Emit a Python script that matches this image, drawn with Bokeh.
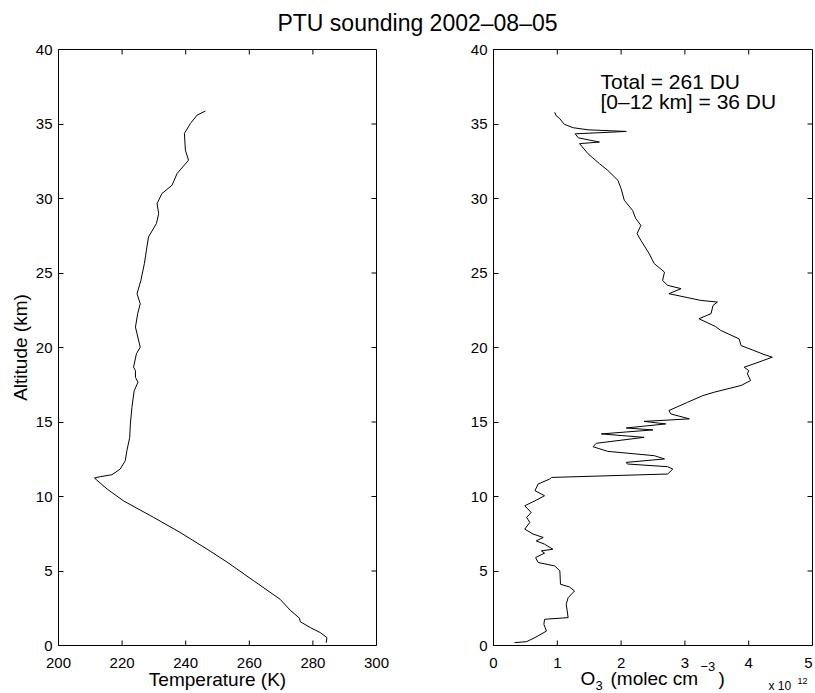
from bokeh.plotting import figure
from bokeh.layouts import column, row
from bokeh.models import Label, FixedTicker, Range1d
from bokeh.embed import file_html
from bokeh.resources import INLINE

FONT = "Liberation Sans"

title_text = "PTU sounding 2002–08–05"
annot_lines = ["Total = 261 DU", "[0–12 km] = 36 DU"]
temp_label = "Temperature (K)"
alt_label = "Altitude (km)"

temp_ticks = [200, 220, 240, 260, 280, 300]
o3_ticks = [0, 1, 2, 3, 4, 5]
alt_ticks = [0, 5, 10, 15, 20, 25, 30, 35, 40]

# Temperature profile (K) vs altitude (km)
temp_alt = [0.19, 0.53, 0.87, 1.2, 1.6, 1.83, 2.36, 3.1, 4.34, 5.6, 6.47, 7.58,
            8.6, 9.7, 10.5, 11.24, 11.33, 11.46, 11.84, 12.4, 13.07, 13.97, 14.87,
            15.99, 17.1, 17.67, 18.0, 18.45, 18.68, 19.58, 20.02, 20.92, 21.37,
            22.27, 22.94, 23.61, 24.5, 25.63, 26.74, 27.42, 28.32, 28.99, 29.66,
            30.33, 30.89, 31.68, 32.57, 33.24, 34.37, 35.04, 35.6, 35.87]
temp_K = [284.2, 284.4, 282.3, 279.2, 276.0, 275.8, 272.9, 269.7, 261.4, 253.0,
          246.7, 238.3, 229.9, 220.5, 215.3, 211.3, 213.1, 216.8, 219.4, 221.0,
          221.5, 222.4, 222.6, 223.1, 223.8, 225.0, 224.2, 224.2, 223.6, 224.5,
          225.7, 224.7, 224.2, 224.9, 225.7, 224.7, 225.9, 227.0, 227.8, 228.3,
          230.8, 231.5, 231.0, 232.5, 235.7, 237.3, 240.9, 239.9, 239.6, 241.5,
          243.6, 246.2]

# Ozone number density (x 1e12 molec cm^-3) vs altitude (km)
o3_alt = [0.19, 0.26, 0.53, 0.97, 1.42, 1.76, 1.87, 2.77, 3.21, 3.66, 3.93, 4.11,
          5.01, 5.34, 5.57, 5.9, 6.2, 6.35, 6.46, 6.8, 7.02, 7.25, 7.48, 7.81,
          8.26, 8.59, 8.93, 9.38, 9.71, 10.05, 10.39, 10.84, 11.17, 11.28, 11.51,
          11.84, 12.0, 12.18, 12.29, 12.52, 12.74, 13.03, 13.34, 13.57, 13.97,
          14.2, 14.47, 14.6, 14.87, 15.04, 15.21, 15.54, 15.77, 16.32, 16.77,
          17.0, 17.45, 17.78, 18.23, 18.45, 18.68, 18.9, 19.35, 19.53, 19.8,
          20.13, 20.58, 21.15, 21.41, 21.93, 22.27, 22.82, 23.05, 23.16, 23.61,
          23.95, 24.17, 24.5, 25.06, 25.63, 26.3, 27.19, 27.64, 28.2, 28.65,
          29.2, 29.88, 30.66, 31.22, 31.89, 32.34, 33.01, 33.68, 33.79, 34.07,
          34.34, 34.5, 34.61, 34.75, 34.98, 35.35, 35.57, 35.79]
o3_val = [0.33, 0.52, 0.65, 0.83, 0.79, 0.80, 1.17, 1.14, 1.17, 1.27, 1.19, 1.05,
          1.04, 0.96, 0.70, 0.66, 0.80, 0.75, 0.93, 0.80, 0.67, 0.78, 0.62, 0.49,
          0.57, 0.52, 0.59, 0.49, 0.65, 0.80, 0.65, 0.70, 0.88, 0.91, 2.73,
          2.81, 2.73, 2.10, 2.08, 2.68, 2.52, 1.79, 1.56, 1.61, 2.36,
          1.69, 2.50, 2.08, 2.70, 2.36, 3.07, 2.78, 2.75, 3.04, 3.28,
          3.46, 3.88, 4.03, 3.98, 4.00, 3.93, 4.08, 4.37, 4.24, 4.08,
          3.88, 3.85, 3.56, 3.48, 3.22, 3.41, 3.44, 3.51, 3.25, 2.75,
          2.94, 2.73, 2.65, 2.68, 2.52, 2.44, 2.31, 2.25, 2.31, 2.23,
          2.18, 2.05, 2.00, 1.95, 1.79, 1.66, 1.48, 1.35, 1.66, 1.33,
          1.28, 2.08, 1.48, 1.25, 1.11, 1.04, 0.98, 0.96]

# ---- layout geometry (pixels) ----
TITLE_H = 40
TOP_B, FRAME_H, BOT_B = 9, 596, 9
STRIP_H = 693 - TITLE_H - TOP_B - FRAME_H - BOT_B
W1, L1, R1 = 430, 58, 54
W2, L2, R2 = 385, 63, 3
TICK_PX = 5
SHIFT = 0.35  # alphabetic baseline correction (em)


def style_panel(p, xticks, yticks, frame_w):
    ax = p.yaxis[0]
    ax.ticker = FixedTicker(ticks=yticks)
    ax.major_tick_in = TICK_PX
    ax.major_tick_out = 0
    ax.minor_tick_line_color = None
    ax.axis_line_color = "black"
    ax.major_tick_line_color = "black"
    ax.major_label_text_font = FONT
    ax.major_label_text_font_size = "15px"
    ax.major_label_text_color = "black"
    ax.major_label_standoff = 6
    ax.axis_label_text_font = FONT
    ax.axis_label_text_font_size = "19px"
    ax.axis_label_text_font_style = "normal"
    ax.axis_label_text_color = "black"
    p.grid.visible = False
    p.outline_line_color = "black"
    p.outline_line_width = 1
    # inward ticks on the top, bottom and right edges of the box
    x0, x1 = p.x_range.start, p.x_range.end
    y0, y1 = p.y_range.start, p.y_range.end
    dy = TICK_PX * (y1 - y0) / FRAME_H
    dx = TICK_PX * (x1 - x0) / frame_w
    n = len(xticks)
    p.segment(x0=xticks, y0=[y1] * n, x1=xticks, y1=[y1 - dy] * n, line_color="black")
    p.segment(x0=xticks, y0=[y0] * n, x1=xticks, y1=[y0 + dy] * n, line_color="black")
    m = len(yticks)
    p.segment(x0=[x1] * m, y0=yticks, x1=[x1 - dx] * m, y1=yticks, line_color="black")


def add_text(p, txt, x, page_baseline, size_px, align="left", x_units="screen", x_offset=0):
    # strip frames end at the page bottom (693)
    ys = 693 - page_baseline + SHIFT * size_px
    p.add_layout(Label(x=x, y=ys, x_units=x_units, y_units="screen", text=txt,
                       text_font=FONT, text_font_size=f"{size_px}px", text_color="black",
                       text_align=align, text_baseline="alphabetic", x_offset=x_offset))


def make_strip(width, xr):
    s = figure(width=width, height=STRIP_H, x_range=xr, y_range=Range1d(0, STRIP_H),
               min_border=0, toolbar_location=None, output_backend="svg",
               x_axis_location=None, y_axis_location=None)
    s.grid.visible = False
    s.outline_line_color = None
    return s


# ---- title strip ----
pt = figure(width=815, height=TITLE_H, x_range=Range1d(0, 815), y_range=Range1d(0, TITLE_H),
            min_border=0, toolbar_location=None, output_backend="svg",
            x_axis_location=None, y_axis_location=None)
pt.grid.visible = False
pt.outline_line_color = None
pt.add_layout(Label(x=417, y=TITLE_H - 31 + SHIFT * 23, x_units="screen", y_units="screen",
                    text=title_text, text_font=FONT, text_font_size="23px",
                    text_align="center", text_baseline="alphabetic", text_color="black"))

# ---- left panel: temperature ----
xr1 = Range1d(200, 300)
p1 = figure(width=W1, height=TOP_B + FRAME_H + BOT_B, x_range=xr1, y_range=Range1d(0, 40),
            min_border_left=L1, min_border_right=R1, min_border_top=TOP_B,
            min_border_bottom=BOT_B, x_axis_location=None,
            toolbar_location=None, output_backend="svg")
p1.line(temp_K, temp_alt, line_color="black", line_width=1)
style_panel(p1, temp_ticks, alt_ticks, W1 - L1 - R1)
p1.yaxis.axis_label = alt_label
p1.yaxis.axis_label_standoff = 2

k1 = (xr1.end - xr1.start) / (W1 - L1 - R1)
s1 = make_strip(W1, Range1d(xr1.start - L1 * k1, xr1.end + R1 * k1))
for t in temp_ticks:
    add_text(s1, str(t), t, 667.5, 15, align="center", x_units="data")
add_text(s1, temp_label, (xr1.start + xr1.end) / 2, 686, 19, align="center", x_units="data")

# ---- right panel: ozone ----
xr2 = Range1d(0, 5)
p2 = figure(width=W2, height=TOP_B + FRAME_H + BOT_B, x_range=xr2, y_range=Range1d(0, 40),
            min_border_left=L2, min_border_right=R2, min_border_top=TOP_B,
            min_border_bottom=BOT_B, x_axis_location=None,
            toolbar_location=None, output_backend="svg")
p2.line(o3_val, o3_alt, line_color="black", line_width=1)
style_panel(p2, o3_ticks, alt_ticks, W2 - L2 - R2)

for i, t in enumerate(annot_lines):
    p2.add_layout(Label(x=1.677, y=37.85 - 1.34 * i, text=t, text_font=FONT,
                        text_font_size="21px", text_color="black",
                        text_baseline="alphabetic"))

k2 = (xr2.end - xr2.start) / (W2 - L2 - R2)
s2 = make_strip(W2, Range1d(xr2.start - L2 * k2, xr2.end + R2 * k2))
for t in o3_ticks:
    # keep the last label inside the page's right edge
    off = -4 if t == o3_ticks[-1] else 0
    add_text(s2, str(t), t, 667.5, 15, align="center", x_units="data", x_offset=off)
# composite axis label O3 (molec cm^-3) and the x 10^12 multiplier (strip-relative x)
add_text(s2, "O", 150, 685, 19)
add_text(s2, "3", 165, 689.5, 13)
add_text(s2, "(molec cm", 180, 685, 19)
add_text(s2, "−3", 270, 671, 13)
add_text(s2, ")", 288, 685, 19)
add_text(s2, "x 10", 338, 690, 12)
add_text(s2, "12", 367, 684, 9)

layout = column(pt, row(p1, p2, spacing=0), row(s1, s2, spacing=0), spacing=0)
open("out.html", "w").write(file_html(layout, INLINE))
